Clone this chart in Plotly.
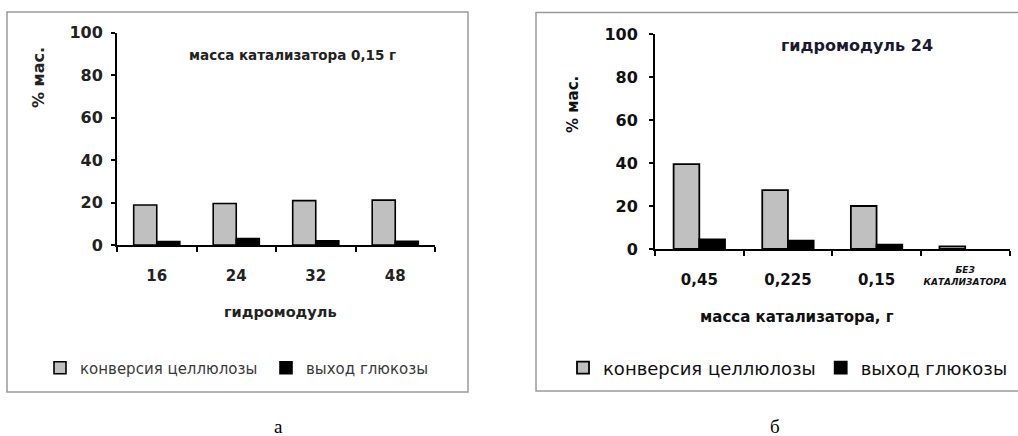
import plotly.graph_objects as go

# ---- data ----
left_categories = ["16", "24", "32", "48"]
left_conversion = [18.8, 19.5, 20.9, 21.1]
left_glucose = [1.6, 3.0, 2.0, 1.7]

right_categories = ["0,45", "0,225", "0,15", "без катализатора"]
right_tick_text = ["0,45", "0,225", "0,15", "БЕЗ<br>КАТАЛИЗАТОРА"]
right_conversion = [39.5, 27.4, 20.0, 1.2]
right_glucose = [4.5, 3.9, 2.0, 0.0]

y_ticks = [0, 20, 40, 60, 80, 100]
series_names = ["конверсия целлюлозы", "выход глюкозы"]
left_title = "масса катализатора 0,15 г"
right_title = "гидромодуль 24"
left_xtitle = "гидромодуль"
right_xtitle = "масса катализатора, г"
y_title = "% мас."
captions = ["а", "б"]

W, H = 1018, 436
def px(x):
    return x / W
def py(y):
    return 1 - y / H

GRAY = "#c0c0c0"
FONT = "DejaVu Sans"

fig = go.Figure()

fig.add_trace(go.Bar(x=left_categories, y=left_conversion, name=series_names[0],
                     marker=dict(color=GRAY, line=dict(color="black", width=1.6)),
                     xaxis="x", yaxis="y", legend="legend"))
fig.add_trace(go.Bar(x=left_categories, y=left_glucose, name=series_names[1],
                     marker=dict(color="black", line=dict(color="black", width=1.6)),
                     xaxis="x", yaxis="y", legend="legend"))
fig.add_trace(go.Bar(x=right_categories, y=right_conversion, name=series_names[0],
                     marker=dict(color=GRAY, line=dict(color="black", width=1.8)),
                     xaxis="x2", yaxis="y2", legend="legend2"))
fig.add_trace(go.Bar(x=right_categories, y=right_glucose, name=series_names[1],
                     marker=dict(color="black",
                                 line=dict(color="black",
                                           width=[1.8 if v > 0 else 0 for v in right_glucose])),
                     xaxis="x2", yaxis="y2", legend="legend2"))

axis_common = dict(showgrid=False, zeroline=False, showline=True, linecolor="black",
                   ticks="outside", tickcolor="black")

right_ticktext_styled = [
    (f"<br><span style='font-size:15px;font-style:normal'>{t}</span>" if "<br>" not in t else t)
    for t in right_tick_text
]

fig.update_layout(
    width=W, height=H, margin=dict(l=0, r=0, t=0, b=0, autoexpand=False),
    paper_bgcolor="white", plot_bgcolor="white",
    barmode="group", bargap=0.42, bargroupgap=0,
    font=dict(family=FONT, color="#222"),
    xaxis=dict(**axis_common, domain=[px(117), px(435)], anchor="y", type="category",
               tickson="boundaries", ticklen=5, linewidth=2, tickwidth=2, tickangle=0,
               tickfont=dict(size=15, color="#222", weight="bold"), ticklabelstandoff=16),
    yaxis=dict(**axis_common, domain=[py(245), py(32.5)], anchor="x", range=[0, 100],
               tickvals=y_ticks, ticklen=4, linewidth=2, tickwidth=1.5,
               tickfont=dict(size=16, color="#222", weight="bold"), ticklabelstandoff=5),
    xaxis2=dict(**axis_common, domain=[px(655), px(1009.5)], anchor="y2", type="category",
                tickson="boundaries", ticklen=5, linewidth=2, tickwidth=2, tickangle=0,
                tickvals=right_categories, ticktext=right_ticktext_styled,
                tickfont=dict(size=9, color="#111", weight="bold", style="italic"),
                ticklabelstandoff=11),
    yaxis2=dict(**axis_common, domain=[py(249), py(34)], anchor="x2", range=[0, 100],
                tickvals=y_ticks, ticklen=4, linewidth=2, tickwidth=1.5,
                tickfont=dict(size=16, color="#111", weight="bold"), ticklabelstandoff=8),
    legend=dict(orientation="h", x=px(40), y=py(368), xanchor="left", yanchor="middle",
                itemwidth=30, entrywidth=181, entrywidthmode="pixels",
                font=dict(size=15, color="#3a3a3a", family=FONT), bgcolor="rgba(0,0,0,0)"),
    legend2=dict(orientation="h", x=px(563), y=py(368), xanchor="left", yanchor="middle",
                 itemwidth=30,
                 font=dict(size=18, color="#111", family=FONT), bgcolor="rgba(0,0,0,0)"),
)

# panel frames
fig.add_shape(type="rect", xref="paper", yref="paper", x0=px(7), x1=px(468), y0=py(392), y1=py(12),
              line=dict(color="#9a9a9a", width=1.5), fillcolor="rgba(0,0,0,0)", layer="below")
fig.add_shape(type="rect", xref="paper", yref="paper", x0=px(536), x1=px(1030), y0=py(391), y1=py(12.5),
              line=dict(color="#9a9a9a", width=1.5), fillcolor="rgba(0,0,0,0)", layer="below")

ann = []
ann.append(dict(text=f"<b>{left_title}</b>", x=px(292), y=py(55), font=dict(size=13.5, color="#222")))
ann.append(dict(text=f"<b>{right_title}</b>", x=px(857), y=py(45), font=dict(size=16, color="#1a1a2e")))
ann.append(dict(text=f"<b>{left_xtitle}</b>", x=px(280), y=py(312), font=dict(size=14.5, color="#222")))
ann.append(dict(text=f"<b>{right_xtitle}</b>", x=px(797), y=py(317), font=dict(size=15, color="#111")))
ann.append(dict(text=f"<b>{y_title}</b>", x=px(38), y=py(78), textangle=-90, font=dict(size=16, color="#222")))
ann.append(dict(text=f"<b>{y_title}</b>", x=px(573), y=py(105), textangle=-90, font=dict(size=15, color="#111")))
ann.append(dict(text=captions[0], x=px(278), y=py(426), font=dict(size=19, color="black", family="Liberation Serif")))
ann.append(dict(text=captions[1], x=px(775), y=py(426), font=dict(size=19, color="black", family="Liberation Serif")))
for a in ann:
    a.update(xref="paper", yref="paper", showarrow=False, xanchor="center", yanchor="middle")
    fig.add_annotation(**a)

fig.write_html("out.html")
